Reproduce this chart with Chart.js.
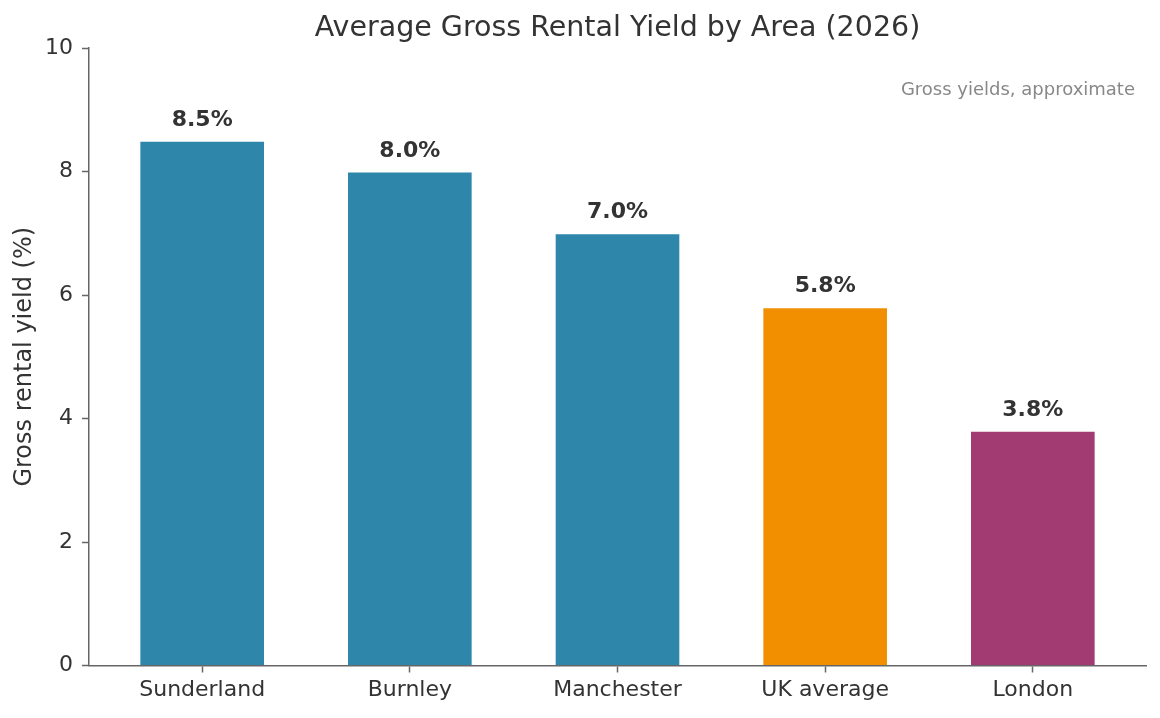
<!DOCTYPE html>
<html>
<head>
<meta charset="utf-8">
<script src="https://cdn.jsdelivr.net/npm/chart.js@4.4.1/dist/chart.umd.min.js"></script>
<style>
  html, body { margin: 0; padding: 0; background: #ffffff; }
  canvas { display: block; }
</style>
</head>
<body>
<canvas id="c" width="1160" height="718"></canvas>
<script>
const categories = ["Sunderland", "Burnley", "Manchester", "UK average", "London"];
const yieldValues = [8.5, 8.0, 7.0, 5.8, 3.8];
const barColors = ["#2E86AB", "#2E86AB", "#2E86AB", "#F18F01", "#A23B72"];
const yTicks = [0, 2, 4, 6, 8, 10];
const chartTitle = "Average Gross Rental Yield by Area (2026)";
const yAxisTitle = "Gross rental yield (%)";
const noteText = "Gross yields, approximate";

const FONT = "'DejaVu Sans', 'Liberation Sans', sans-serif";
const TEXT = "#333333";
const AXIS = "#666666";

const valueLabels = {
  id: "valueLabels",
  afterDatasetsDraw(chart) {
    const ctx = chart.ctx;
    const meta = chart.getDatasetMeta(0);
    ctx.save();
    ctx.font = "bold 22px " + FONT;
    ctx.fillStyle = TEXT;
    ctx.textAlign = "center";
    ctx.textBaseline = "alphabetic";
    meta.data.forEach((bar, i) => {
      ctx.fillText(yieldValues[i].toFixed(1) + "%", bar.x, bar.y - 15);
    });
    ctx.restore();
  }
};

const note = {
  id: "note",
  afterDraw(chart) {
    const ctx = chart.ctx;
    const area = chart.chartArea;
    ctx.save();
    ctx.font = "18px " + FONT;
    ctx.fillStyle = "#888888";
    ctx.textAlign = "right";
    ctx.textBaseline = "alphabetic";
    ctx.fillText(noteText, area.right - 11, area.top + 47);
    ctx.restore();
  }
};

new Chart(document.getElementById("c"), {
  type: "bar",
  data: {
    datasets: [{
      data: categories.map((c, i) => ({ x: i, y: yieldValues[i] })),
      backgroundColor: barColors,
      borderColor: "rgba(255,255,255,0.7)",
      borderWidth: 1,
      barPercentage: 0.605,
      categoryPercentage: 1.0
    }]
  },
  options: {
    responsive: false,
    animation: false,
    devicePixelRatio: 1,
    layout: { padding: { top: 0, right: 14, bottom: 0, left: 0 } },
    plugins: {
      legend: { display: false },
      tooltip: { enabled: false },
      title: {
        display: true,
        text: chartTitle,
        fullSize: false,
        color: TEXT,
        font: { family: FONT, size: 28.5, weight: "normal", lineHeight: 1.2 },
        padding: { top: 11, bottom: 2.8 }
      }
    },
    scales: {
      x: {
        type: "linear",
        min: -0.545,
        max: 4.545,
        offset: false,
        afterBuildTicks(scale) {
          scale.ticks = categories.map((c, i) => ({ value: i }));
        },
        afterFit(scale) { scale.height = 52.5; },
        ticks: {
          autoSkip: false,
          maxRotation: 0,
          padding: 5,
          color: TEXT,
          font: { family: FONT, size: 22 },
          callback: (v) => categories[v]
        },
        grid: {
          offset: false,
          drawOnChartArea: false,
          drawTicks: true,
          tickLength: 7,
          tickColor: AXIS,
          tickWidth: 1.5
        },
        border: { display: true, color: AXIS, width: 1.5 }
      },
      y: {
        min: 0,
        max: 10,
        afterBuildTicks(scale) {
          scale.ticks = yTicks.map(v => ({ value: v }));
        },
        afterFit(scale) { scale.width = 89; },
        ticks: {
          padding: 9,
          color: TEXT,
          font: { family: FONT, size: 22 }
        },
        grid: {
          drawOnChartArea: false,
          drawTicks: true,
          tickLength: 7,
          tickColor: AXIS,
          tickWidth: 1.5
        },
        border: { display: true, color: AXIS, width: 1.5 },
        title: {
          display: true,
          text: yAxisTitle,
          color: TEXT,
          font: { family: FONT, size: 24, lineHeight: 1.2 },
          padding: { top: 10, bottom: 0 }
        }
      }
    }
  },
  plugins: [valueLabels, note]
});
</script>
</body>
</html>
